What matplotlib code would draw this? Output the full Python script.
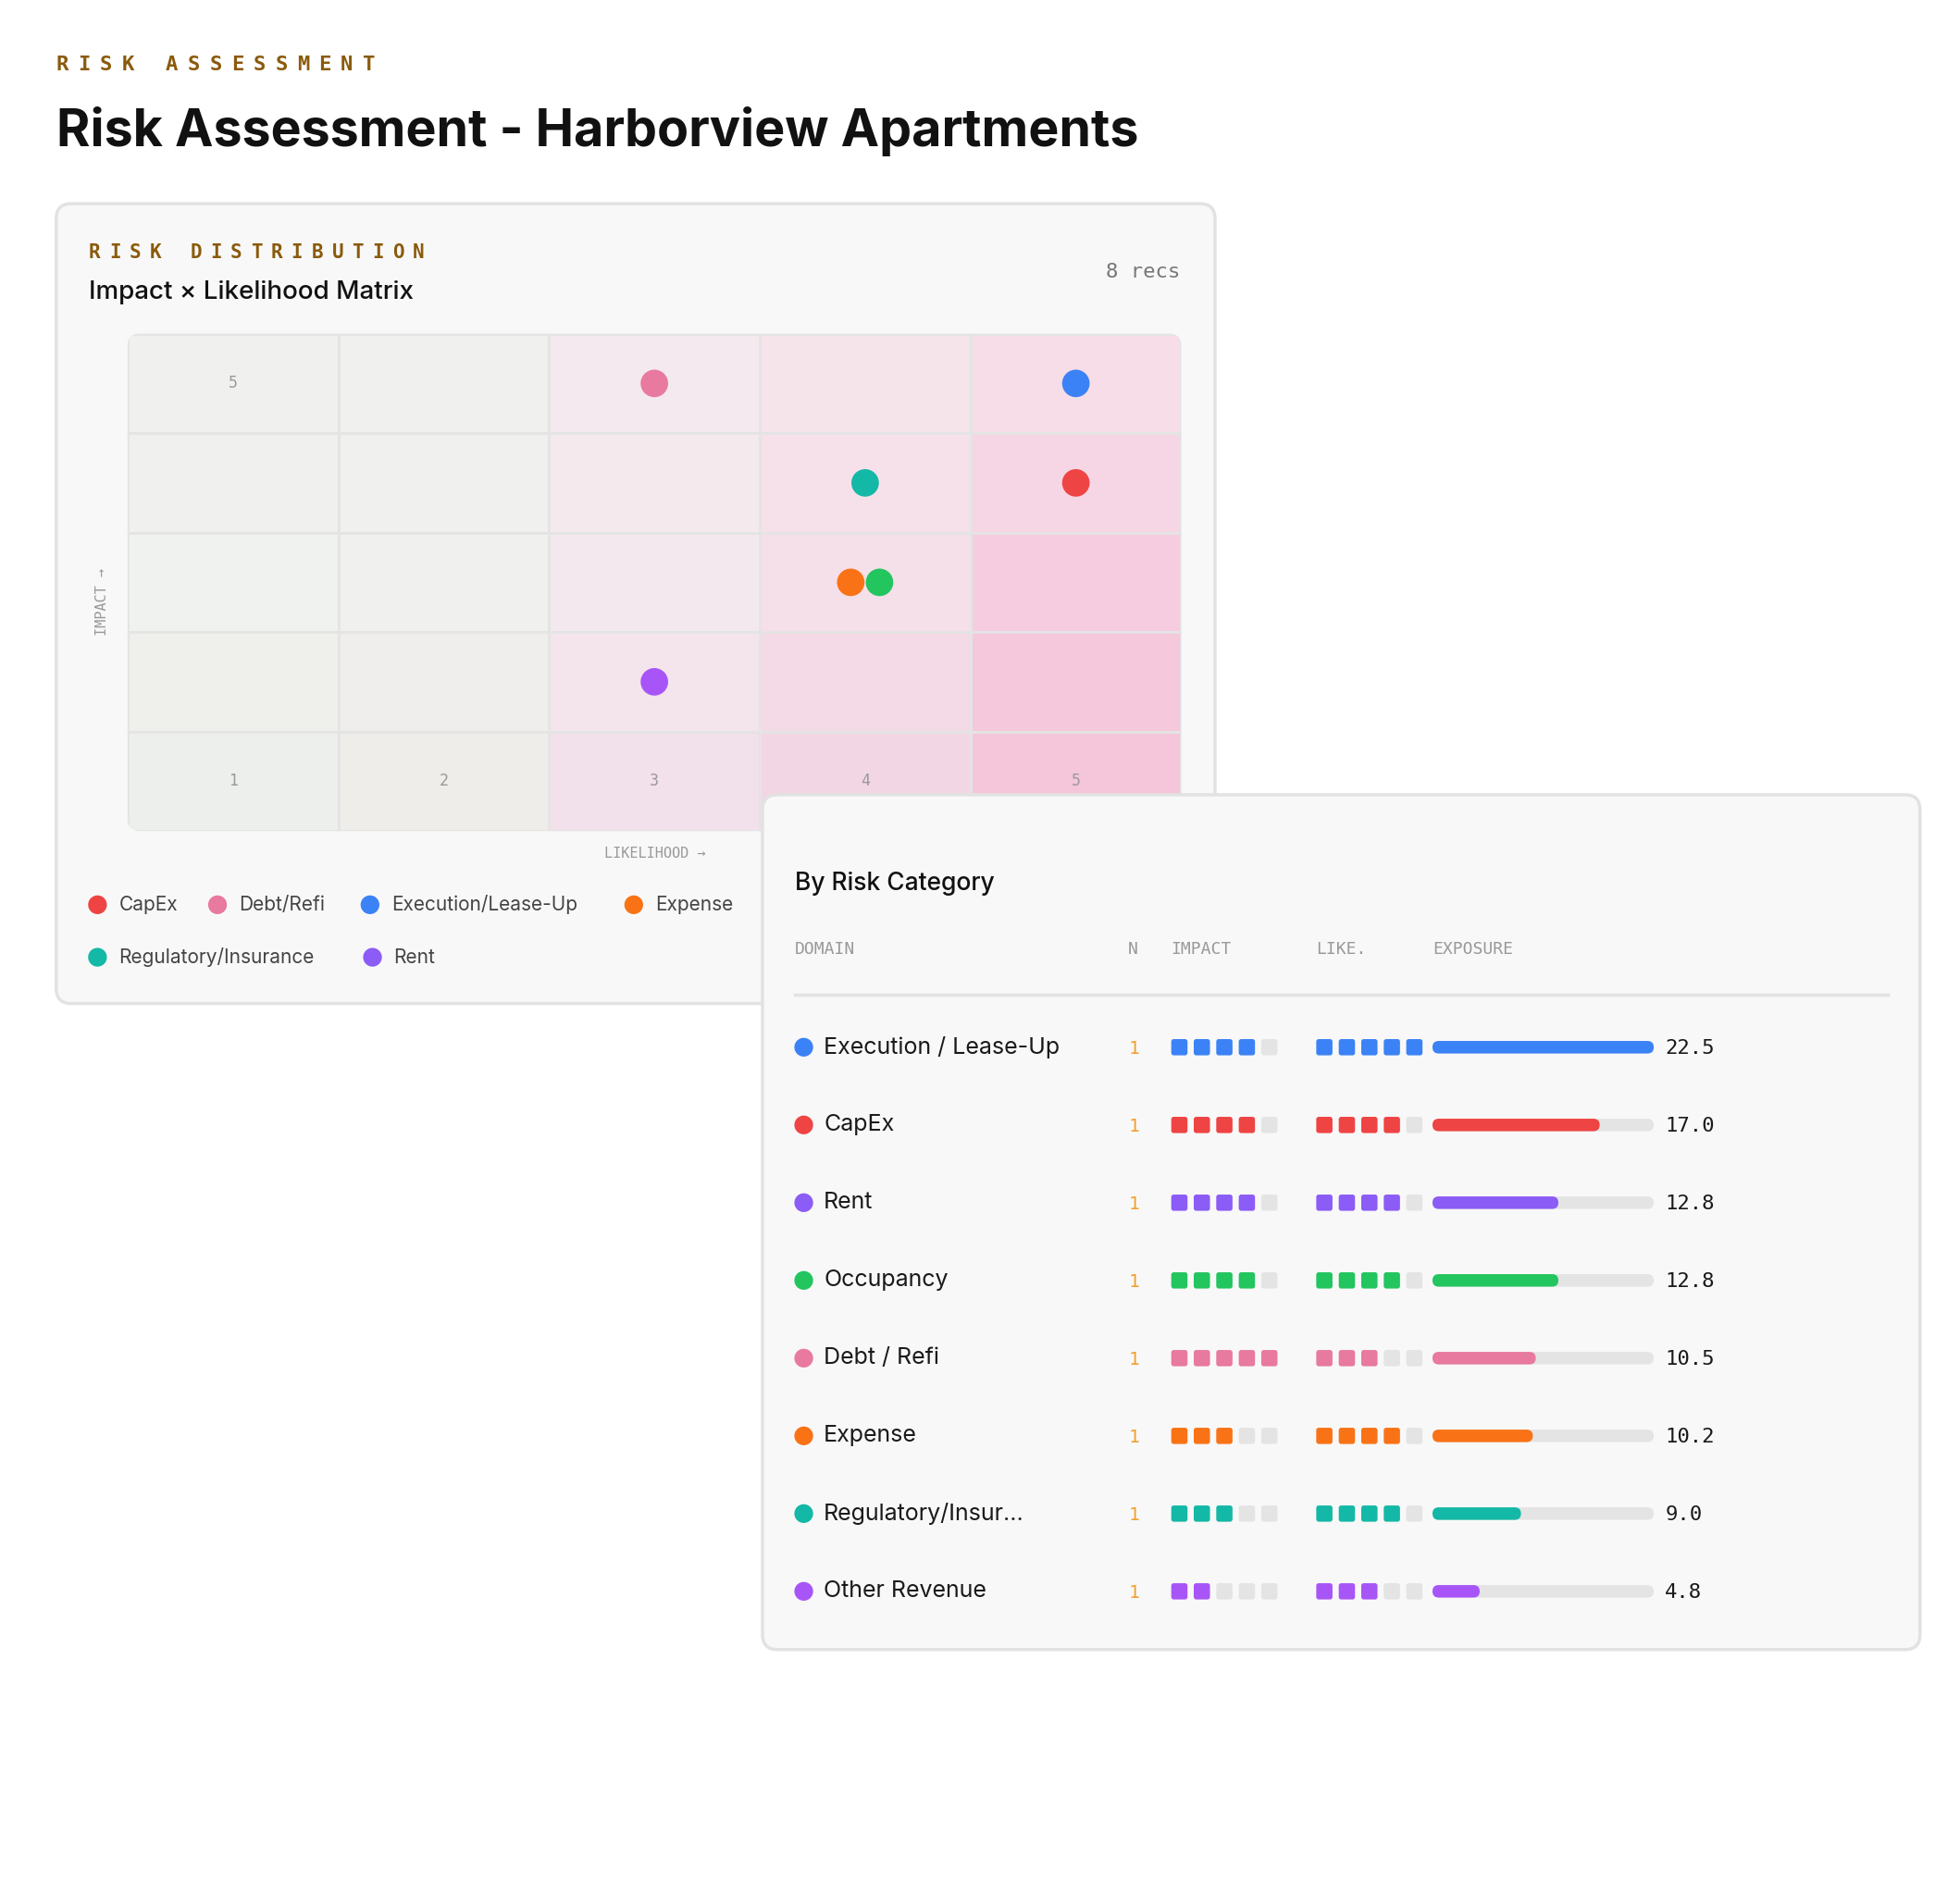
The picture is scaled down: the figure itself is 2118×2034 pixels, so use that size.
import matplotlib
matplotlib.use("Agg")
import matplotlib.pyplot as plt
from matplotlib.patches import FancyBboxPatch, Rectangle, Circle

# ---- data ----
domains = ["Execution / Lease-Up", "CapEx", "Rent", "Occupancy", "Debt / Refi",
           "Expense", "Regulatory/Insur...", "Other Revenue"]
dom_colors = ["#3b82f6", "#ef4444", "#8b5cf6", "#22c55e", "#e8799f",
              "#f97316", "#14b8a6", "#a855f7"]
counts = [1, 1, 1, 1, 1, 1, 1, 1]
impact = [4, 4, 4, 4, 5, 3, 3, 2]
likelihood = [5, 4, 4, 4, 3, 4, 4, 3]
exposure = [22.5, 17.0, 12.8, 12.8, 10.5, 10.2, 9.0, 4.8]

# matrix points: (likelihood, impact, color, side offset)
pt_like = [3, 5, 4, 5, 4, 4, 3]
pt_imp = [5, 5, 4, 4, 3, 3, 2]
pt_col = ["#e8799f", "#3b82f6", "#14b8a6", "#ef4444", "#f97316", "#22c55e", "#a855f7"]
pt_off = [0, 0, 0, 0, -1, 1, 0]

legend_names = ["CapEx", "Debt/Refi", "Execution/Lease-Up", "Expense",
                "Regulatory/Insurance", "Rent"]
legend_cols = ["#ef4444", "#e8799f", "#3b82f6", "#f97316", "#14b8a6", "#8b5cf6"]

# cell shades, rows impact 5 -> 1, cols likelihood 1 -> 5
cell_cols = [
    ["#f0f1ee", "#f0f0ee", "#f4e9ee", "#f5e4ea", "#f6dde7"],
    ["#f0f1ee", "#f0f0ee", "#f4eaee", "#f6e1ea", "#f6d6e4"],
    ["#eff2ee", "#f0f0ee", "#f3e8ee", "#f5dfe9", "#f6cde0"],
    ["#eff0ec", "#efeeec", "#f4e4ec", "#f4dae6", "#f5c8dc"],
    ["#ecefeb", "#eeedea", "#f2e0ea", "#f2d6e4", "#f5c6da"],
]

GOLD = "#8a5a0c"
SANS = ["Inter", "DejaVu Sans"]
MONO = "DejaVu Sans Mono"

fig = plt.figure(figsize=(21.18, 20.34), dpi=100)
ax = fig.add_axes([0, 0, 1, 1])
ax.set_xlim(0, 1568)
ax.set_ylim(1506, 0)
ax.axis("off")


def spaced(x, y, text, step, size=15, color=GOLD):
    for k, ch in enumerate(text):
        ax.text(x + k * step, y, ch, fontsize=size, color=color, family=MONO,
                fontweight="bold", va="center", ha="left")


def card(x0, y0, x1, y1, z):
    ax.add_patch(FancyBboxPatch((x0, y0), x1 - x0, y1 - y0,
                                boxstyle="round,pad=0,rounding_size=12",
                                fc="#f8f8f8", ec="#e2e2e2", lw=2.5, zorder=z))


# header
spaced(45, 52, "RISK ASSESSMENT", 17.5, 16)
ax.text(45, 105, "Risk Assessment - Harborview Apartments", fontsize=40,
        fontweight="bold", family=SANS, color="#111111", va="center")

# ---- card 1: matrix ----
card(45, 163, 972, 803, 1)
spaced(71, 202, "RISK DISTRIBUTION", 16.2, 15)
ax.text(71, 234, "Impact × Likelihood Matrix", fontsize=20, family=SANS,
        fontweight="medium", color="#111111", va="center", zorder=2)
ax.text(944, 218, "8 recs", fontsize=16, family=MONO, color="#777777",
        ha="right", va="center", zorder=2)

gx0, gy0, gw, gh = 102, 267, 843, 398
cw, ch = gw / 5, gh / 5
clip = FancyBboxPatch((gx0, gy0), gw, gh, boxstyle="round,pad=0,rounding_size=10",
                      fc="none", ec="none", transform=ax.transData)
ax.add_patch(clip)
for r in range(5):
    for c in range(5):
        rect = Rectangle((gx0 + c * cw, gy0 + r * ch), cw, ch, fc=cell_cols[r][c],
                         ec="#e4e4e4", lw=2, zorder=2)
        ax.add_patch(rect)
        rect.set_clip_path(clip)
ax.text(gx0 + cw / 2, gy0 + ch / 2, "5", fontsize=12, family=MONO,
        color="#999999", ha="center", va="center", zorder=3)
for c in range(5):
    ax.text(gx0 + (c + 0.5) * cw, gy0 + 4.5 * ch, str(c + 1), fontsize=12,
            family=MONO, color="#999999", ha="center", va="center", zorder=3)
for L, I, col, off in zip(pt_like, pt_imp, pt_col, pt_off):
    cx = gx0 + (L - 0.5) * cw + off * 11.5
    cy = gy0 + (5 - I + 0.5) * ch
    ax.add_patch(Circle((cx, cy), 11, fc=col, ec="none", zorder=4))
ax.text(82, 482, "IMPACT →", rotation=90, fontsize=11, family=MONO,
        color="#999999", ha="center", va="center", zorder=3)
ax.text(524, 683, "LIKELIHOOD →", fontsize=11, family=MONO, color="#999999",
        ha="center", va="center", zorder=3)

leg_x = [78, 174, 296, 507, 78, 298]
leg_y = [724, 724, 724, 724, 766, 766]
for nm, col, lx, ly in zip(legend_names, legend_cols, leg_x, leg_y):
    ax.add_patch(Circle((lx, ly), 7.5, fc=col, ec="none", zorder=3))
    ax.text(lx + 17, ly, nm, fontsize=15, family=SANS, color="#444444",
            va="center", zorder=3)

# ---- card 2: domain summary ----
card(610, 636, 1536, 1320, 10)
spaced(636, 675, "DOMAIN SUMMARY", 16.2, 15)
ax.text(636, 707, "By Risk Category", fontsize=19, family=SANS,
        fontweight="medium", color="#111111", va="center", zorder=11)
for hx, ht in zip([636, 902, 937, 1053, 1146], ["DOMAIN", "N", "IMPACT", "LIKE.", "EXPOSURE"]):
    ax.text(hx, 760, ht, fontsize=13, family=MONO, color="#999999",
            va="center", zorder=11)
ax.plot([636, 1510], [796, 796], color="#e2e2e2", lw=2.5, zorder=11)

max_exp = max(exposure)
for i in range(len(domains)):
    y = 838 + 62.2 * i
    col = dom_colors[i]
    ax.add_patch(Circle((643, y), 7.5, fc=col, ec="none", zorder=11))
    ax.text(659, y, domains[i], fontsize=18, family=SANS, color="#1a1a1a",
            va="center", zorder=11)
    ax.text(907, y + 1, str(counts[i]), fontsize=14, family=MONO, color="#f0a030",
            ha="center", va="center", zorder=11)
    for base, val in ((937, impact[i]), (1053, likelihood[i])):
        for k in range(5):
            ax.add_patch(FancyBboxPatch((base + k * 18, y - 6.5), 13, 13,
                                        boxstyle="round,pad=0,rounding_size=2",
                                        fc=col if k < val else "#e4e4e4",
                                        ec="none", zorder=11))
    ax.add_patch(FancyBboxPatch((1146, y - 5), 177, 10,
                                boxstyle="round,pad=0,rounding_size=5",
                                fc="#e4e4e4", ec="none", zorder=11))
    ax.add_patch(FancyBboxPatch((1146, y - 5), 177 * exposure[i] / max_exp, 10,
                                boxstyle="round,pad=0,rounding_size=5",
                                fc=col, ec="none", zorder=12))
    ax.text(1332, y + 1, f"{exposure[i]:.1f}", fontsize=16, family=MONO,
            color="#1a1a1a", va="center", zorder=12)

fig.savefig("out.png", dpi=100, facecolor="white")
